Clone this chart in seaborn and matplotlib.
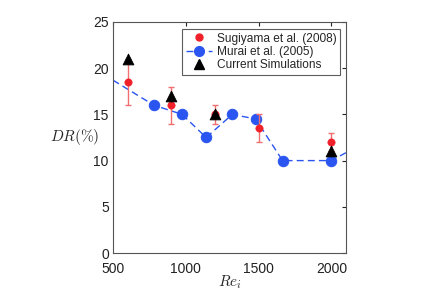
import numpy as np
import pandas as pd
import matplotlib
matplotlib.use('Agg')
import matplotlib.pyplot as plt
from matplotlib.lines import Line2D
import seaborn as sns

### data
sugi_re = [600, 900, 1200, 1500, 2000]
sugi_dr = [18.5, 16.0, 15.0, 13.5, 12.0]
sugi_err = [2.5, 2.0, 1.0, 1.5, 1.0]

### Murai curve (first and last points only continue the dashed line to the frame)
murai_re = [500, 780, 975, 1140, 1320, 1480, 1665, 2000, 2100]
murai_dr = [18.7, 16.0, 15.0, 12.5, 15.0, 14.5, 10.0, 10.0, 10.85]

sim_re = [600, 900, 1200, 2000]
sim_dr = [21.0, 17.0, 15.0, 11.0]

xticks = [500, 1000, 1500, 2000]
yticks = [0, 5, 10, 15, 20, 25]

red = '#f0202a'
blue = '#2a55f0'

sns.set_style('white')
plt.rcParams['font.family'] = ['Liberation Sans', 'DejaVu Sans']
plt.rcParams['mathtext.fontset'] = 'cm'

sugi_df = pd.DataFrame({'Re': sugi_re, 'DR': sugi_dr})
murai_df = pd.DataFrame({'Re': murai_re, 'DR': murai_dr})
sim_df = pd.DataFrame({'Re': sim_re, 'DR': sim_dr})

fig = plt.figure(figsize=(4.44, 2.93), dpi=100)
ax = fig.add_axes([0.2545, 0.1365, 0.5245, 0.7885])

sns.lineplot(data=murai_df, x='Re', y='DR', ax=ax, color=blue, linestyle=(0, (5, 3)),
             lw=1, marker='o', markersize=7.5, markeredgecolor=blue,
             markevery=list(range(1, len(murai_re) - 1)), legend=False, zorder=2)
ax.errorbar(sugi_re, sugi_dr, yerr=sugi_err, fmt='none', ecolor='#f07070',
            elinewidth=1, capsize=2.5, capthick=1, zorder=3)
sns.scatterplot(data=sugi_df, x='Re', y='DR', ax=ax, color=red, s=28,
                edgecolor=red, legend=False, zorder=4)
sns.scatterplot(data=sim_df, x='Re', y='DR', ax=ax, color='black', marker='^', s=60,
                edgecolor='black', legend=False, zorder=5)

ax.set_xlim(500, 2100)
ax.set_ylim(0, 25)
ax.set_xticks(xticks)
ax.set_yticks(yticks)
ax.tick_params(direction='in', length=3, width=0.8, top=True, right=True,
               labelsize=10, colors='#222222', pad=3)
ax.tick_params(axis='x', pad=6.5)
for s in ax.spines.values():
    s.set_color('#555555')
    s.set_linewidth(0.8)

ax.set_xlabel('$Re_i$', fontsize=11, labelpad=-2)
ax.set_ylabel('$DR(\\%)$', fontsize=11, rotation=0, labelpad=13, va='center')

### legend handles
handles = [
    Line2D([], [], color=red, marker='o', linestyle='none', markersize=5),
    Line2D([], [], color=blue, marker='o', linestyle=(0, (5, 3)), lw=1, markersize=7),
    Line2D([], [], color='black', marker='^', linestyle='none', markersize=7),
]
labels = ['Sugiyama et al. (2008)', 'Murai et al. (2005)', 'Current Simulations']
leg = ax.legend(handles, labels, loc='upper right',
                fontsize=8.6, frameon=True, fancybox=False, borderpad=0.3,
                handletextpad=0.4, labelspacing=0.1, handlelength=2.2,
                borderaxespad=0.3, bbox_to_anchor=(0.99, 0.985))
leg.get_frame().set_edgecolor('#333333')
leg.get_frame().set_linewidth(0.8)

fig.savefig('out.png', dpi=100)
